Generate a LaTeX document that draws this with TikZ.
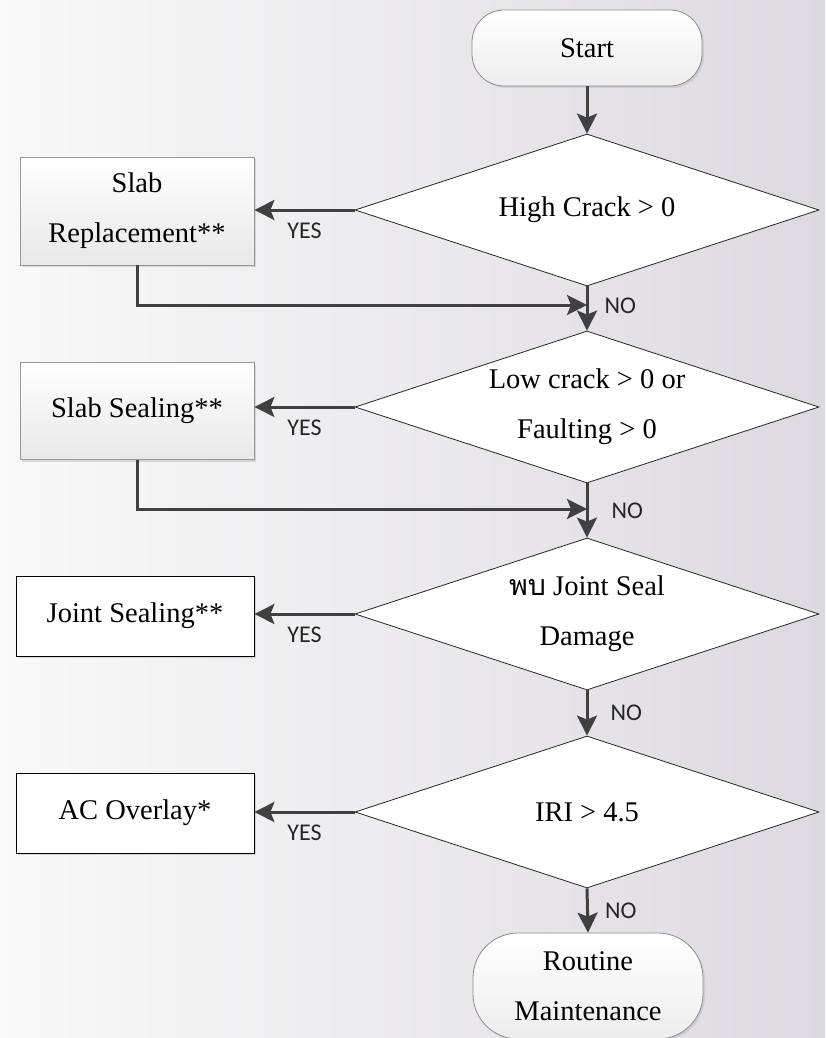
\documentclass[tikz,border=0pt]{standalone}
\usepackage{fontspec}
\setmainfont{Liberation Serif}
\newfontfamily\lblfont{Carlito}
\newfontfamily\thaifont[Script=Thai]{Loma}
\usepackage{xcolor}
\usetikzlibrary{positioning, arrows.meta, shapes.geometric, shadows}

\definecolor{linegray}{RGB}{64,64,64}
\definecolor{bgleft}{RGB}{249,249,249}
\definecolor{bgright}{RGB}{221,218,223}

\begin{document}
\begin{tikzpicture}[
    x=1pt, y=-1pt,
    font=\fontsize{28.5}{50}\selectfont,
    flow/.style={draw=linegray, line width=3pt, -{Stealth[length=20pt, width=20pt, inset=4pt]}},
    decision/.style={diamond, aspect=3.05, draw=black!85, fill=white, line width=0.8pt, minimum width=464pt, minimum height=152pt, inner sep=0pt, align=center},
    terminal/.style={rectangle, draw=black!45, line width=0.8pt, top color=white, bottom color=black!7, minimum width=230pt, align=center, drop shadow={shadow xshift=2pt, shadow yshift=-2pt, opacity=0.2}},
    action/.style={rectangle, draw=black!40, line width=0.8pt, top color=white, bottom color=black!9, minimum width=234pt, align=center, drop shadow={shadow xshift=2pt, shadow yshift=-2pt, opacity=0.25}},
    plain/.style={rectangle, draw=black, line width=0.8pt, fill=white, minimum width=238pt, minimum height=80pt, align=center, drop shadow={shadow xshift=2pt, shadow yshift=-2pt, opacity=0.25}},
    lbl/.style={font=\lblfont\fontsize{24}{26}\selectfont, text=black!85, inner sep=2pt}
]
    % Fundo
    \useasboundingbox (0,0) rectangle (825,1038);
    \shade[left color=bgleft, right color=bgright] (0,0) rectangle (825,1038);

    % Inicio e fim
    \node[terminal, rounded corners=32pt, minimum height=76pt] (start) at (587,48) {Start};
    \node[terminal, rounded corners=45pt, minimum height=106pt] (stop) at (588,986) {Routine\\Maintenance};

    % Decisoes
    \node[decision] (d1) at (587,210) {High Crack > 0};
    \node[decision] (d2) at (587,407) {Low crack > 0 or\\Faulting > 0};
    \node[decision] (d3) at (587,614) {{\thaifont พบ} Joint Seal\\Damage};
    \node[decision] (d4) at (587,812) {IRI > 4.5};

    % Acoes
    \node[action, minimum height=108pt] (b1) at (137,211) {Slab\\Replacement**};
    \node[action, minimum height=97pt] (b2) at (137,411) {Slab Sealing**};
    \node[plain] (b3) at (135,616) {Joint Sealing**};
    \node[plain] (b4) at (135,813) {AC Overlay*};

    \coordinate (j1) at (587,305);
    \coordinate (j2) at (587,509);

    % Setas
    \draw[flow] (start) -- (d1);
    \draw[flow] (d1.south) --node[lbl, right=14pt, pos=0.43]{NO} (d2.north);
    \draw[flow] (d2.south) --node[lbl, right=21pt]{NO} (d3.north);
    \draw[flow] (d3.south) --node[lbl, right=20pt]{NO} (d4.north);
    \draw[flow] (d4.south) --node[lbl, right=14pt]{NO} (stop.north);

    \draw[flow] (d1.west) --node[lbl, below=9pt]{YES} (d1.west -| b1.east);
    \draw[flow] (d2.west) --node[lbl, below=9pt]{YES} (d2.west -| b2.east);
    \draw[flow] (d3.west) --node[lbl, below=9pt]{YES} (d3.west -| b3.east);
    \draw[flow] (d4.west) --node[lbl, below=9pt]{YES} (d4.west -| b4.east);

    \draw[flow] (b1.south) |- (j1);
    \draw[flow] (b2.south) |- (j2);
\end{tikzpicture}
\end{document}
